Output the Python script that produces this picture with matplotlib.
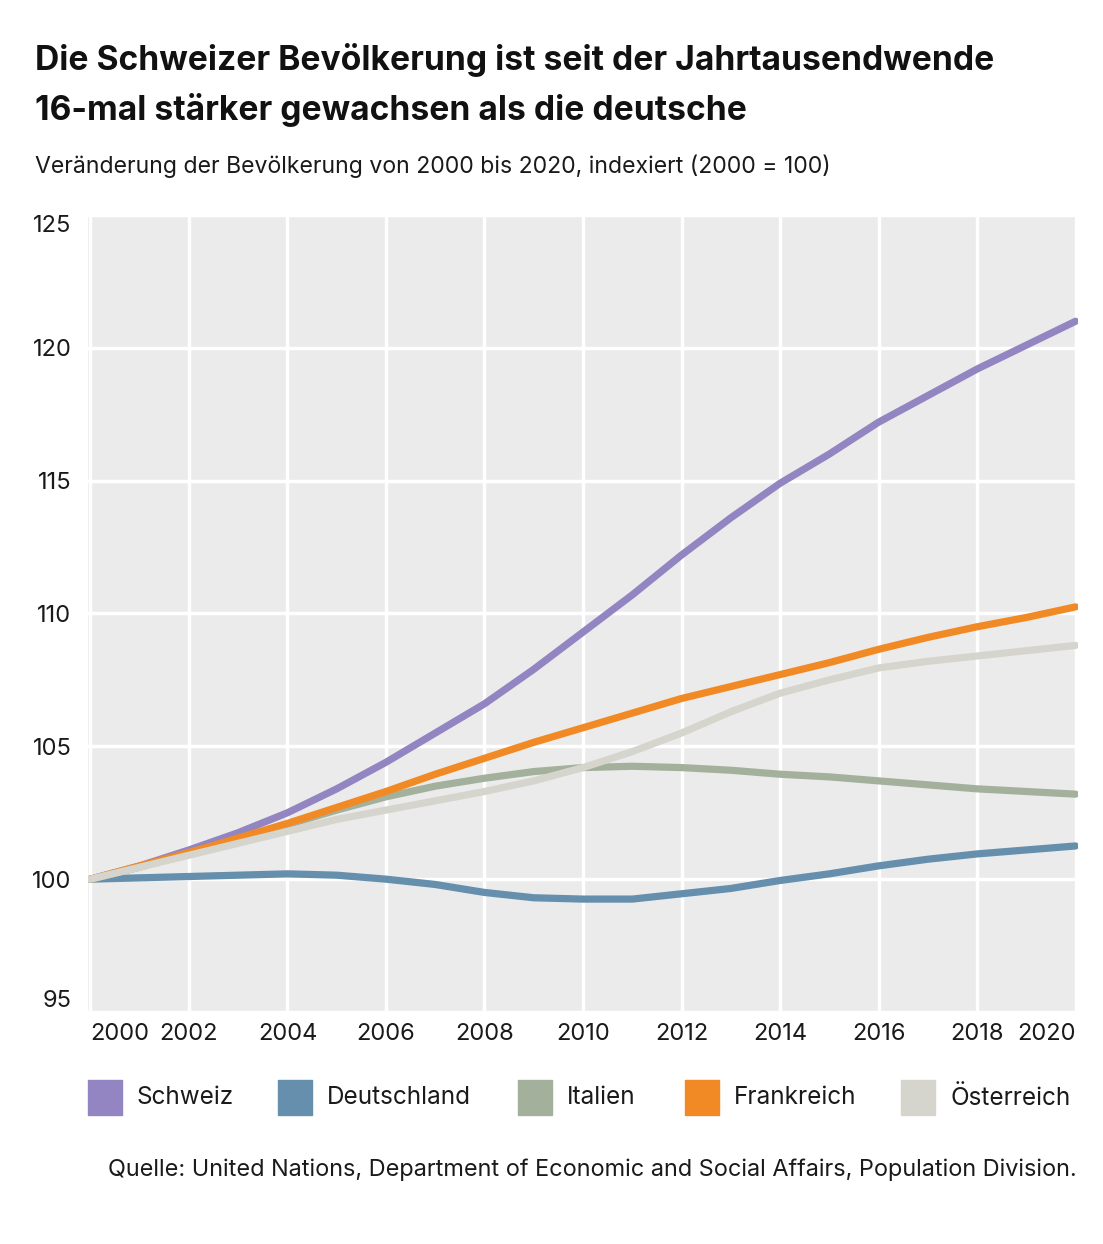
import matplotlib.pyplot as plt
import numpy as np

plt.rcParams['font.family'] = ['Inter', 'DejaVu Sans']

years = list(range(2000, 2021))
schweiz = [100, 100.5, 101.1, 101.75, 102.5, 103.4, 104.4, 105.5, 106.6, 107.9, 109.3,
           110.7, 112.2, 113.6, 114.9, 116.0, 117.2, 118.2, 119.2, 120.1, 121.0]
deutschland = [100, 100.05, 100.1, 100.15, 100.2, 100.15, 100.0, 99.8, 99.5, 99.3, 99.25,
               99.25, 99.45, 99.65, 99.95, 100.2, 100.5, 100.75, 100.95, 101.1, 101.25]
italien = [100, 100.45, 101.0, 101.5, 102.05, 102.6, 103.1, 103.5, 103.8, 104.05, 104.2,
           104.25, 104.2, 104.1, 103.95, 103.85, 103.7, 103.55, 103.4, 103.3, 103.2]
frankreich = [100, 100.5, 101.0, 101.55, 102.1, 102.7, 103.3, 103.95, 104.55, 105.15, 105.7,
              106.25, 106.8, 107.25, 107.7, 108.15, 108.65, 109.1, 109.5, 109.85, 110.25]
oesterreich = [100, 100.45, 100.9, 101.35, 101.8, 102.25, 102.6, 102.95, 103.3, 103.7, 104.2,
               104.8, 105.5, 106.3, 107.0, 107.5, 107.95, 108.2, 108.4, 108.6, 108.8]

names = ['Schweiz', 'Deutschland', 'Italien', 'Frankreich', 'Österreich']
series = [schweiz, deutschland, italien, frankreich, oesterreich]
colors = ['#9385c1', '#668fad', '#a3b19c', '#f18a24', '#d6d5cd']

yticks = [95, 100, 105, 110, 115, 120, 125]
xticks = list(range(2000, 2021, 2))

fig = plt.figure(figsize=(11.03, 12.44), dpi=100)
ax = fig.add_axes([88/1103, 1 - 1012/1244, 990/1103, (1012-215)/1244])
ax.set_facecolor('#ebebeb')

for vals, c in zip(series, colors):
    ax.plot(years, vals, color=c, lw=5.2, solid_capstyle='round', solid_joinstyle='round')

ax.set_xlim(1999.95, 2020.05)
ax.set_ylim(95, 125)
ax.set_xticks(xticks)
ax.set_yticks(yticks)
ax.grid(True, color='white', lw=2.5)
ax.set_axisbelow(True)
for s in ax.spines.values():
    s.set_visible(False)
ax.tick_params(length=0, labelsize=17, colors='#1a1a1a')
ax.tick_params(axis='y', pad=12)
ax.tick_params(axis='x', pad=8)
ax.set_yticklabels([str(v) for v in yticks])
ax.set_xticklabels([str(v) for v in xticks])
ylabs = ax.get_yticklabels()
ylabs[0].set_va('bottom')
ylabs[-1].set_va('top')
xlabs = ax.get_xticklabels()
xlabs[0].set_ha('left')
xlabs[0].set_x(1999.85)
xlabs[-1].set_ha('right')

fig.text(35/1103, 1 - 60/1244, 'Die Schweizer Bevölkerung ist seit der Jahrtausendwende',
         fontsize=24.2, fontweight='bold', va='center', color='#111111')
fig.text(35/1103, 1 - 110/1244, '16-mal stärker gewachsen als die deutsche',
         fontsize=24.2, fontweight='bold', va='center', color='#111111')
fig.text(35/1103, 1 - 166/1244, 'Veränderung der Bevölkerung von 2000 bis 2020, indexiert (2000 = 100)',
         fontsize=16.6, va='center', color='#1a1a1a')

legend_x = [88, 278, 518, 685, 901]
for lx, name, c in zip(legend_x, names, colors):
    fig.patches.append(plt.Rectangle((lx/1103, 1 - 1115/1244), 34/1103, 35/1244,
                                     transform=fig.transFigure, color=c))
    fig.text((lx + 49)/1103, 1 - 1098/1244, name, fontsize=17.5, va='center', color='#1a1a1a')

fig.text(1077/1103, 1 - 1170/1244,
         'Quelle: United Nations, Department of Economic and Social Affairs, Population Division.',
         fontsize=16.9, va='center', ha='right', color='#1a1a1a')

fig.savefig('out.png', dpi=100, facecolor='white')
